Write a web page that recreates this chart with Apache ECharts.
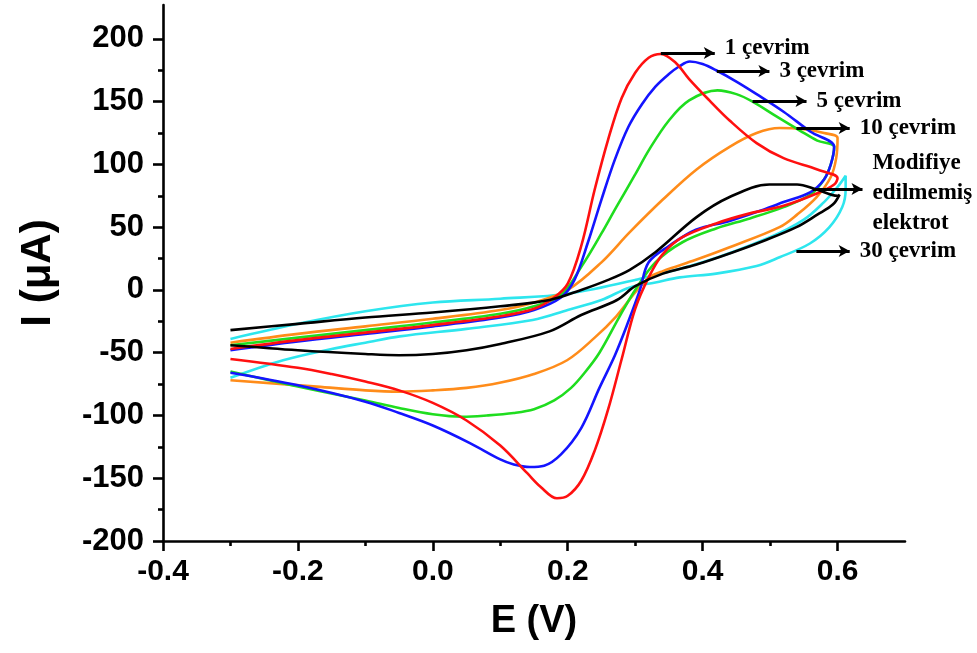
<!DOCTYPE html>
<html>
<head>
<meta charset="utf-8">
<script src="https://cdn.jsdelivr.net/npm/echarts@6/dist/echarts.min.js"></script>
<style>
html,body{margin:0;padding:0;background:#fff;}
#chart{width:977px;height:653px;}
</style>
</head>
<body>
<div id="chart"></div>
<script>
// ---- Data (E in V, I in µA), each cycle: forward scan then reverse scan ----
const cycle1E = [-0.30,-0.20,-0.10,0.00,0.10,0.15,0.18,0.20,0.22,0.24,0.26,0.28,0.30,0.32,0.338,0.36,0.38,0.41,0.44,0.48,0.52,0.57,0.60,
                 0.595,0.57,0.52,0.47,0.42,0.37,0.34,0.32,0.30,0.28,0.26,0.24,0.22,0.20,0.184,0.16,0.14,0.10,0.05,0.00,-0.05,-0.10,-0.15,-0.20,-0.30];
const cycle1I = [-47,-40,-34,-28,-21,-15,-6,5,35,80,120,153,173,185,188,181,168,151,135,117,105,96,89,
                 84,77,67,61,53,42,28,10,-15,-55,-95,-128,-152,-164,-166,-157,-146,-124,-104,-90,-80,-73,-67,-62,-55];

const cycle3E = [-0.30,-0.20,-0.10,0.00,0.10,0.15,0.19,0.21,0.23,0.25,0.27,0.29,0.31,0.33,0.35,0.365,0.381,0.40,0.42,0.45,0.48,0.52,0.56,0.595,
                 0.59,0.58,0.56,0.52,0.49,0.44,0.39,0.35,0.32,0.307,0.29,0.27,0.247,0.22,0.19,0.165,0.144,0.12,0.10,0.055,0.00,-0.05,-0.10,-0.20,-0.30];
const cycle3I = [-48,-41,-35,-29,-22,-16,-6,8,38,72,104,130,148,162,172,178,182,180,175,166,156,142,126,114,
                 100,88,78,70,64,55,48,35,22,0,-25,-52,-78,-110,-131,-140,-141,-139,-135,-122,-108,-98,-89,-76,-66];

const cycle5E = [-0.30,-0.20,-0.10,0.00,0.10,0.15,0.19,0.222,0.25,0.272,0.30,0.321,0.35,0.38,0.422,0.45,0.474,0.51,0.544,0.57,0.595,
                 0.59,0.58,0.56,0.52,0.47,0.42,0.37,0.33,0.30,0.277,0.247,0.225,0.205,0.18,0.15,0.12,0.08,0.044,0.00,-0.05,-0.10,-0.20,-0.30];
const cycle5I = [-44,-38,-32,-26,-19,-13,-4,20,45,66,92,112,135,151,159,156,150,138,127,119,114,
                 100,88,76,66,57,49,38,22,0,-21,-50,-66,-78,-88,-95,-98,-100,-101,-99,-94,-88,-77,-65];

const cycle10E = [-0.30,-0.20,-0.10,0.00,0.10,0.15,0.20,0.25,0.292,0.341,0.391,0.44,0.48,0.514,0.55,0.58,0.60,
                  0.598,0.59,0.569,0.54,0.514,0.44,0.39,0.341,0.321,0.30,0.272,0.24,0.199,0.15,0.099,0.05,0.00,-0.049,-0.10,-0.172,-0.30];
const cycle10I = [-42,-35,-29,-23,-16,-10,0,22,46,72,96,114,125,129,128,125,121,
                  105,90,74,60,50,34,24,15,10,-2,-21,-38,-56,-67,-74,-78,-80,-81,-80,-77,-72];

const cycle30E = [-0.30,-0.20,-0.10,0.00,0.10,0.20,0.30,0.40,0.50,0.55,0.58,0.60,0.612,
                  0.612,0.607,0.588,0.559,0.514,0.48,0.42,0.366,0.33,0.292,0.25,0.20,0.148,0.05,-0.049,-0.10,-0.15,-0.222,-0.30];
const cycle30I = [-39,-27,-17,-10,-7,-3,8,22,42,56,70,82,91,
                  80,66,50,37,26,19,13,10,6,2,-8,-16,-24,-31,-37,-42,-47,-56,-70];

const bareE = [-0.30,-0.20,-0.10,0.00,0.10,0.173,0.22,0.26,0.292,0.33,0.391,0.44,0.499,0.54,0.569,0.60,0.603,
               0.593,0.57,0.539,0.49,0.44,0.39,0.341,0.30,0.273,0.22,0.173,0.10,0.05,0.00,-0.05,-0.10,-0.20,-0.30];
const bareI = [-32,-27,-22,-18,-13,-8,0,8,16,30,58,74,84,84,80,75,76,
               68,60,50,39,29,20,13,3,-8,-20,-33,-43,-48,-51,-52,-51,-48,-44];

// Axis ticks
const xMajorTicks = [-0.4,-0.2,0.0,0.2,0.4,0.6];
const xMinorTicks = [-0.3,-0.1,0.1,0.3,0.5];
const yMajorTicks = [-200,-150,-100,-50,0,50,100,150,200];
const yMinorTicks = [-175,-125,-75,-25,25,75,125,175];

// Annotations (arrow start E, arrow end E, I level, label)
const annotLabels = ['1 çevrim','3 çevrim','5 çevrim','10 çevrim','Modifiye\nedilmemiş\nelektrot','30 çevrim'];
const annotStartE = [0.338,0.421,0.474,0.539,0.563,0.539];
const annotEndE   = [0.418,0.499,0.554,0.618,0.637,0.618];
const annotI      = [188.8,174.5,150.6,129,80.5,31];
const annotTextShift = [-5,0,0,0,4,0];

// ---- Build ----
const zip = (a,b)=>a.map((v,i)=>[v,b[i]]);
const curves = [
  {name:'30 çevrim', e:cycle30E, i:cycle30I, color:'#2ee6ee'},
  {name:'10 çevrim', e:cycle10E, i:cycle10I, color:'#ff8c1a'},
  {name:'5 çevrim', e:cycle5E, i:cycle5I, color:'#1fdd1f'},
  {name:'3 çevrim', e:cycle3E, i:cycle3I, color:'#1414ff'},
  {name:'1 çevrim', e:cycle1E, i:cycle1I, color:'#ff1010'},
  {name:'Modifiye edilmemiş elektrot', e:bareE, i:bareI, color:'#000000'}
];
const series = curves.map(c=>({
  type:'line', name:c.name, data:zip(c.e,c.i), showSymbol:false, smooth:0.35,
  lineStyle:{color:c.color,width:2.6}, itemStyle:{color:c.color}, silent:true, animation:false
}));
series.push({
  type:'line', data:[], silent:true, animation:false,
  markLine:{
    silent:true, animation:false,
    symbol:['none','arrow'], symbolSize:[9,11],
    lineStyle:{color:'#000',width:3,type:'solid'},
    label:{show:true, position:'end', formatter:'{b}', distance:10,
      fontFamily:'Liberation Serif', fontWeight:'bold', fontSize:23, color:'#000', lineHeight:30, align:'left'},
    emphasis:{disabled:true},
    data: annotLabels.map((lab,k)=>[{name:lab, coord:[annotStartE[k],annotI[k]], label:{offset:[0,annotTextShift[k]]}},{coord:[annotEndE[k],annotI[k]]}])
  }
});

const labelFont = {fontFamily:'Liberation Sans', fontWeight:'bold', color:'#000'};
const chart = echarts.init(document.getElementById('chart'), null, {renderer:'canvas'});
chart.setOption({
  animation:false,
  backgroundColor:'#fff',
  grid:{left:163, right:72, top:5, bottom:112, containLabel:false},
  xAxis:[{
    type:'value', min:-0.4, max:0.7, position:'bottom',
    name:'E (V)', nameLocation:'middle', nameGap:62,
    nameTextStyle:Object.assign({fontSize:38}, labelFont),
    axisLine:{show:true, onZero:false, lineStyle:{color:'#000',width:2.6}},
    axisTick:{show:true, inside:false, length:10, lineStyle:{color:'#000',width:2.6}, customValues:xMajorTicks},
    axisLabel:Object.assign({fontSize:30, margin:16, customValues:xMajorTicks, formatter:v=>v.toFixed(1)}, labelFont),
    splitLine:{show:false}
  },{
    type:'value', min:-0.4, max:0.7, position:'bottom',
    axisLine:{show:false, onZero:false},
    axisTick:{show:true, inside:false, length:5, lineStyle:{color:'#000',width:2.6}, customValues:xMinorTicks},
    axisLabel:{show:false}, splitLine:{show:false}
  }],
  yAxis:[{
    type:'value', min:-200, max:227, position:'left',
    name:'I (μA)', nameLocation:'middle', nameGap:104, nameRotate:90,
    nameTextStyle:Object.assign({fontSize:42}, labelFont),
    axisLine:{show:true, onZero:false, lineStyle:{color:'#000',width:2.6}},
    axisTick:{show:true, inside:false, length:10, lineStyle:{color:'#000',width:2.6}, customValues:yMajorTicks},
    axisLabel:Object.assign({fontSize:31, margin:19, customValues:yMajorTicks}, labelFont),
    splitLine:{show:false}
  },{
    type:'value', min:-200, max:227, position:'left',
    axisLine:{show:false, onZero:false},
    axisTick:{show:true, inside:false, length:5, lineStyle:{color:'#000',width:2.6}, customValues:yMinorTicks},
    axisLabel:{show:false}, splitLine:{show:false}
  }],
  series:series
});
</script>
</body>
</html>
